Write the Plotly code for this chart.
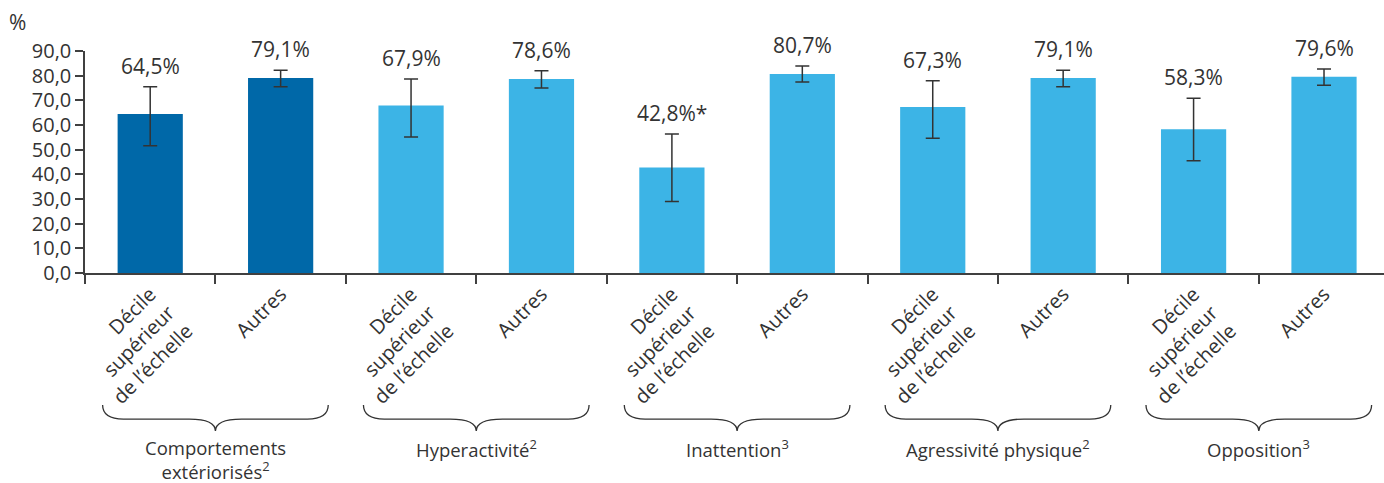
import plotly.graph_objects as go

# ---- data ----
tick_labels = ["Décile<br>supérieur<br>de l’échelle", "Autres"] * 5
values = [64.5, 79.1, 67.9, 78.6, 42.8, 80.7, 67.3, 79.1, 58.3, 79.6]
ci_upper = [75.5, 82.2, 78.6, 82.0, 56.4, 83.9, 77.9, 82.2, 70.8, 82.7]
ci_lower = [51.6, 75.5, 55.1, 75.0, 29.0, 77.4, 54.6, 75.5, 45.5, 76.1]
significant = [False, False, False, False, True, False, False, False, False, False]
groups = ["Comportements<br>extériorisés<sup>2</sup>", "Hyperactivité<sup>2</sup>",
          "Inattention<sup>3</sup>", "Agressivité physique<sup>2</sup>", "Opposition<sup>3</sup>"]
bar_colors = ["#0068A8", "#0068A8"] + ["#3CB4E6"] * 8

FONT = "Open Sans"
TXT = "#333333"
AX = "#404040"

x = list(range(len(values)))
labels = [f"{v:.1f}".replace(".", ",") + "%" + ("*" if s else "") for v, s in zip(values, significant)]

fig = go.Figure()
fig.add_trace(go.Bar(
    x=x, y=values, width=0.5, marker=dict(color=bar_colors, line=dict(width=0)),
    error_y=dict(type="data", symmetric=False,
                 array=[u - v for u, v in zip(ci_upper, values)],
                 arrayminus=[v - l for v, l in zip(values, ci_lower)],
                 color="#333333", thickness=1.5, width=7),
    hoverinfo="skip", showlegend=False,
))

annotations = []
for xi, yu, lab in zip(x, ci_upper, labels):
    annotations.append(dict(x=xi, y=yu, xref="x", yref="y", text=lab, showarrow=False,
                            xanchor="center", yanchor="bottom", yshift=5,
                            font=dict(family=FONT, size=21, color=TXT)))

# group braces and labels
y_top, y_flat, y_tip = -0.595, -0.658, -0.712
hw, a, b = 0.865, 0.16, 0.2
shapes = []
for i, g in enumerate(groups):
    cx = 2 * i + 0.5
    path = (f"M {cx-hw},{y_top} Q {cx-hw},{y_flat} {cx-hw+a},{y_flat} "
            f"L {cx-b},{y_flat} Q {cx},{y_flat} {cx},{y_tip} "
            f"Q {cx},{y_flat} {cx+b},{y_flat} "
            f"L {cx+hw-a},{y_flat} Q {cx+hw},{y_flat} {cx+hw},{y_top}")
    shapes.append(dict(type="path", path=path, xref="x", yref="paper",
                       line=dict(color="#333333", width=1.3)))
    annotations.append(dict(x=cx, y=-0.72, xref="x", yref="paper", text=g,
                            showarrow=False, xanchor="center", yanchor="top",
                            font=dict(family=FONT, size=18.5, color=TXT)))
annotations.append(dict(x=-0.052, y=1.13, xref="paper", yref="paper", text="%",
                        showarrow=False, xanchor="center", yanchor="middle",
                        font=dict(family=FONT, size=21, color=TXT)))

fig.update_layout(
    width=1384, height=483,
    margin=dict(l=85, r=0, t=51, b=210),
    plot_bgcolor="white", paper_bgcolor="white",
    separators=", ",
    bargap=0.5,
    shapes=shapes, annotations=annotations,
    font=dict(family=FONT, color=TXT),
)
fig.update_xaxes(
    range=[-0.5, 9.46], tickmode="array", tickvals=x, ticktext=tick_labels,
    tickangle=-45, ticks="", showline=True, linecolor=AX, linewidth=1.5,
    showgrid=False, zeroline=False, tickfont=dict(family=FONT, size=20, color=TXT),
    minor=dict(tickmode="array", tickvals=[i - 0.5 for i in range(len(values) + 1)],
               ticks="outside", ticklen=9, tickwidth=1.5, tickcolor=AX, showgrid=False),
)
fig.update_yaxes(
    range=[0, 90], dtick=10, tickformat=".1f", ticks="outside", ticklen=8,
    tickwidth=1.5, tickcolor=AX, showline=True, linecolor=AX, linewidth=1.5,
    showgrid=False, zeroline=False, tickfont=dict(family=FONT, size=20, color=TXT),
)

fig.write_html("out.html")
